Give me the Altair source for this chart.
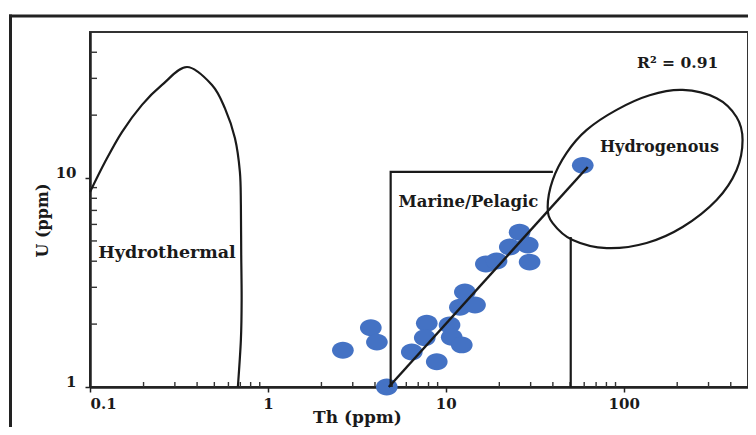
import altair as alt
import pandas as pd

# ---- sample points (Th ppm, U ppm) ----
th_ppm = [2.64, 3.79, 4.10, 4.66, 6.44, 7.82, 7.62, 8.90, 10.5, 10.8, 12.3,
          12.0, 12.8, 14.6, 16.8, 19.3, 22.9, 26.0, 28.9, 29.6, 58.9]
u_ppm = [1.50, 1.92, 1.64, 1.00, 1.47, 2.02, 1.72, 1.32, 1.98, 1.73, 1.59,
         2.41, 2.85, 2.47, 3.88, 4.01, 4.68, 5.51, 4.78, 3.96, 11.5]

# ---- regression line ----
fit_th = [4.78, 62.8]
fit_u = [1.0, 11.3]

# ---- hydrothermal field boundary ----
hydro_th = [0.1, 0.1214, 0.1512, 0.196, 0.254, 0.351, 0.485, 0.573,
            0.653, 0.696, 0.705, 0.708, 0.712, 0.705, 0.678]
hydro_u = [8.57, 11.93, 16.6, 22.4, 27.9, 34.0, 27.9, 21.6,
           15.5, 10.7, 7.43, 4.38, 2.61, 1.68, 1.0]

# ---- hydrogenous field (closed outline) ----
hg_th = [214.5, 140, 91.3, 62.0, 47.8, 39.9, 37.4, 39.9, 51.7, 80.3, 134.6,
         214.5, 333, 431, 466, 431, 333]
hg_u = [26.4, 24.9, 21.2, 17.0, 13.2, 9.78, 7.26, 6.09, 5.05, 4.62, 4.89,
        5.83, 7.85, 10.9, 15.2, 19.6, 24.1]

# ---- marine / pelagic field box ----
mp_seg = ["a", "a", "a", "b", "b"]
mp_th = [4.9, 4.9, 40.0, 50.4, 50.4]
mp_u = [1.0, 10.7, 10.7, 5.22, 1.0]

# ---- labels ----
label_text = ["Hydrothermal", "Marine/Pelagic", "Hydrogenous", "R\u00b2 = 0.91"]
label_th = [0.271, 13.4, 159, 201]
label_u = [4.38, 7.68, 14.1, 35.5]

# ---- ticks ----
x_ticks = [0.1, 1, 10, 100]
y_ticks = [1, 10]
x_minor = [0.2, 0.3, 0.4, 0.5, 0.6, 0.7, 0.8, 0.9,
           2, 3, 4, 5, 6, 7, 8, 9,
           20, 30, 40, 50, 60, 70, 80, 90,
           200, 300, 400]
y_minor = [2, 3, 4, 5, 6, 7, 8, 9, 20, 30, 40]

FONT = "DejaVu Serif"
INK = "#1a1a1a"
xs = alt.Scale(type="log", domain=[0.1, 500])
ys = alt.Scale(type="log", domain=[1, 50])

x_axis = alt.Axis(
    values=x_ticks, format="~g", title="Th (ppm)",
    titleX=267, titleY=30, titleBaseline="middle", titleAlign="center",
    titleFontSize=17, labelPadding=4)
y_axis = alt.Axis(
    values=y_ticks, format="~g", title="U (ppm)",
    titleX=-48, titleY=188, titleBaseline="middle", titleAlign="center",
    titleAngle=270, titleFontSize=16, labelBaseline="alphabetic",
    labelOffset=-1, labelPadding=9)


def xenc():
    return alt.X("th:Q", scale=xs, axis=x_axis)


def yenc():
    return alt.Y("u:Q", scale=ys, axis=y_axis)


pts_df = pd.DataFrame({"th": th_ppm, "u": u_ppm})
ellipse_shape = "M-1,0A1,0.78,0,1,1,1,0A1,0.78,0,1,1,-1,0Z"

points = alt.Chart(pts_df).mark_point(
    shape=ellipse_shape, filled=True, color="#4472c4", size=470, opacity=1
).encode(x=xenc(), y=yenc())

fit = alt.Chart(pd.DataFrame({"th": fit_th, "u": fit_u})).mark_line(
    color=INK, strokeWidth=2.4
).encode(x=xenc(), y=yenc())

hydro_df = pd.DataFrame({"th": hydro_th, "u": hydro_u, "i": range(len(hydro_th))})
hydro = alt.Chart(hydro_df).mark_line(
    color=INK, strokeWidth=2.2, interpolate="cardinal"
).encode(x=xenc(), y=yenc(), order=alt.Order("i:Q"))

hg_df = pd.DataFrame({"th": hg_th, "u": hg_u, "i": range(len(hg_th))})
hg = alt.Chart(hg_df).mark_line(
    color=INK, strokeWidth=2.2, interpolate="cardinal-closed"
).encode(x=xenc(), y=yenc(), order=alt.Order("i:Q"))

mp_df = pd.DataFrame({"th": mp_th, "u": mp_u, "seg": mp_seg, "i": range(len(mp_th))})
mp = alt.Chart(mp_df).mark_line(color=INK, strokeWidth=2.2).encode(
    x=xenc(), y=yenc(), detail="seg:N", order=alt.Order("i:Q"))

lab_df = pd.DataFrame({"t": label_text, "th": label_th, "u": label_u})
label_sizes = [17.5, 16.5, 16, 15.5]
labels = [
    alt.Chart(lab_df.iloc[[k]]).mark_text(
        font=FONT, fontWeight="bold", fontSize=fs, color=INK,
        align="center", baseline="middle"
    ).encode(x=xenc(), y=yenc(), text="t:N")
    for k, fs in enumerate(label_sizes)
]

xminor = alt.Chart(pd.DataFrame({"th": x_minor})).mark_rule(
    color="#333", strokeWidth=1.4
).encode(x=xenc(), y=alt.value(355), y2=alt.value(350))

yminor = alt.Chart(pd.DataFrame({"u": y_minor})).mark_rule(
    color="#333", strokeWidth=1.4
).encode(y=yenc(), x=alt.value(0), x2=alt.value(7))

one = pd.DataFrame({"a": [0]})
frame_left = alt.Chart(one).mark_rule(color="#222", strokeWidth=3).encode(
    x=alt.value(-79.5), y=alt.value(-17.5), y2=alt.value(400))
frame_top = alt.Chart(one).mark_rule(color="#222", strokeWidth=3).encode(
    y=alt.value(-16), x=alt.value(-81), x2=alt.value(660))

chart = alt.layer(
    points, xminor, yminor, hydro, hg, mp, fit, *labels, frame_left, frame_top
).properties(
    width=658, height=355,
    padding={"left": 82, "top": 24, "right": 0, "bottom": 40},
    autosize="none",
).configure_view(
    stroke="#333", strokeWidth=2
).configure_axis(
    grid=False, domainColor="#222", domainWidth=2.5, tickColor="#222",
    tickWidth=1.5, tickSize=5, labelFont=FONT, labelFontWeight="bold",
    labelFontSize=15, labelColor=INK, titleFont=FONT, titleFontWeight="bold",
    titleColor=INK,
)

chart.save("out.html", embed_options={"renderer": "svg", "actions": False})
